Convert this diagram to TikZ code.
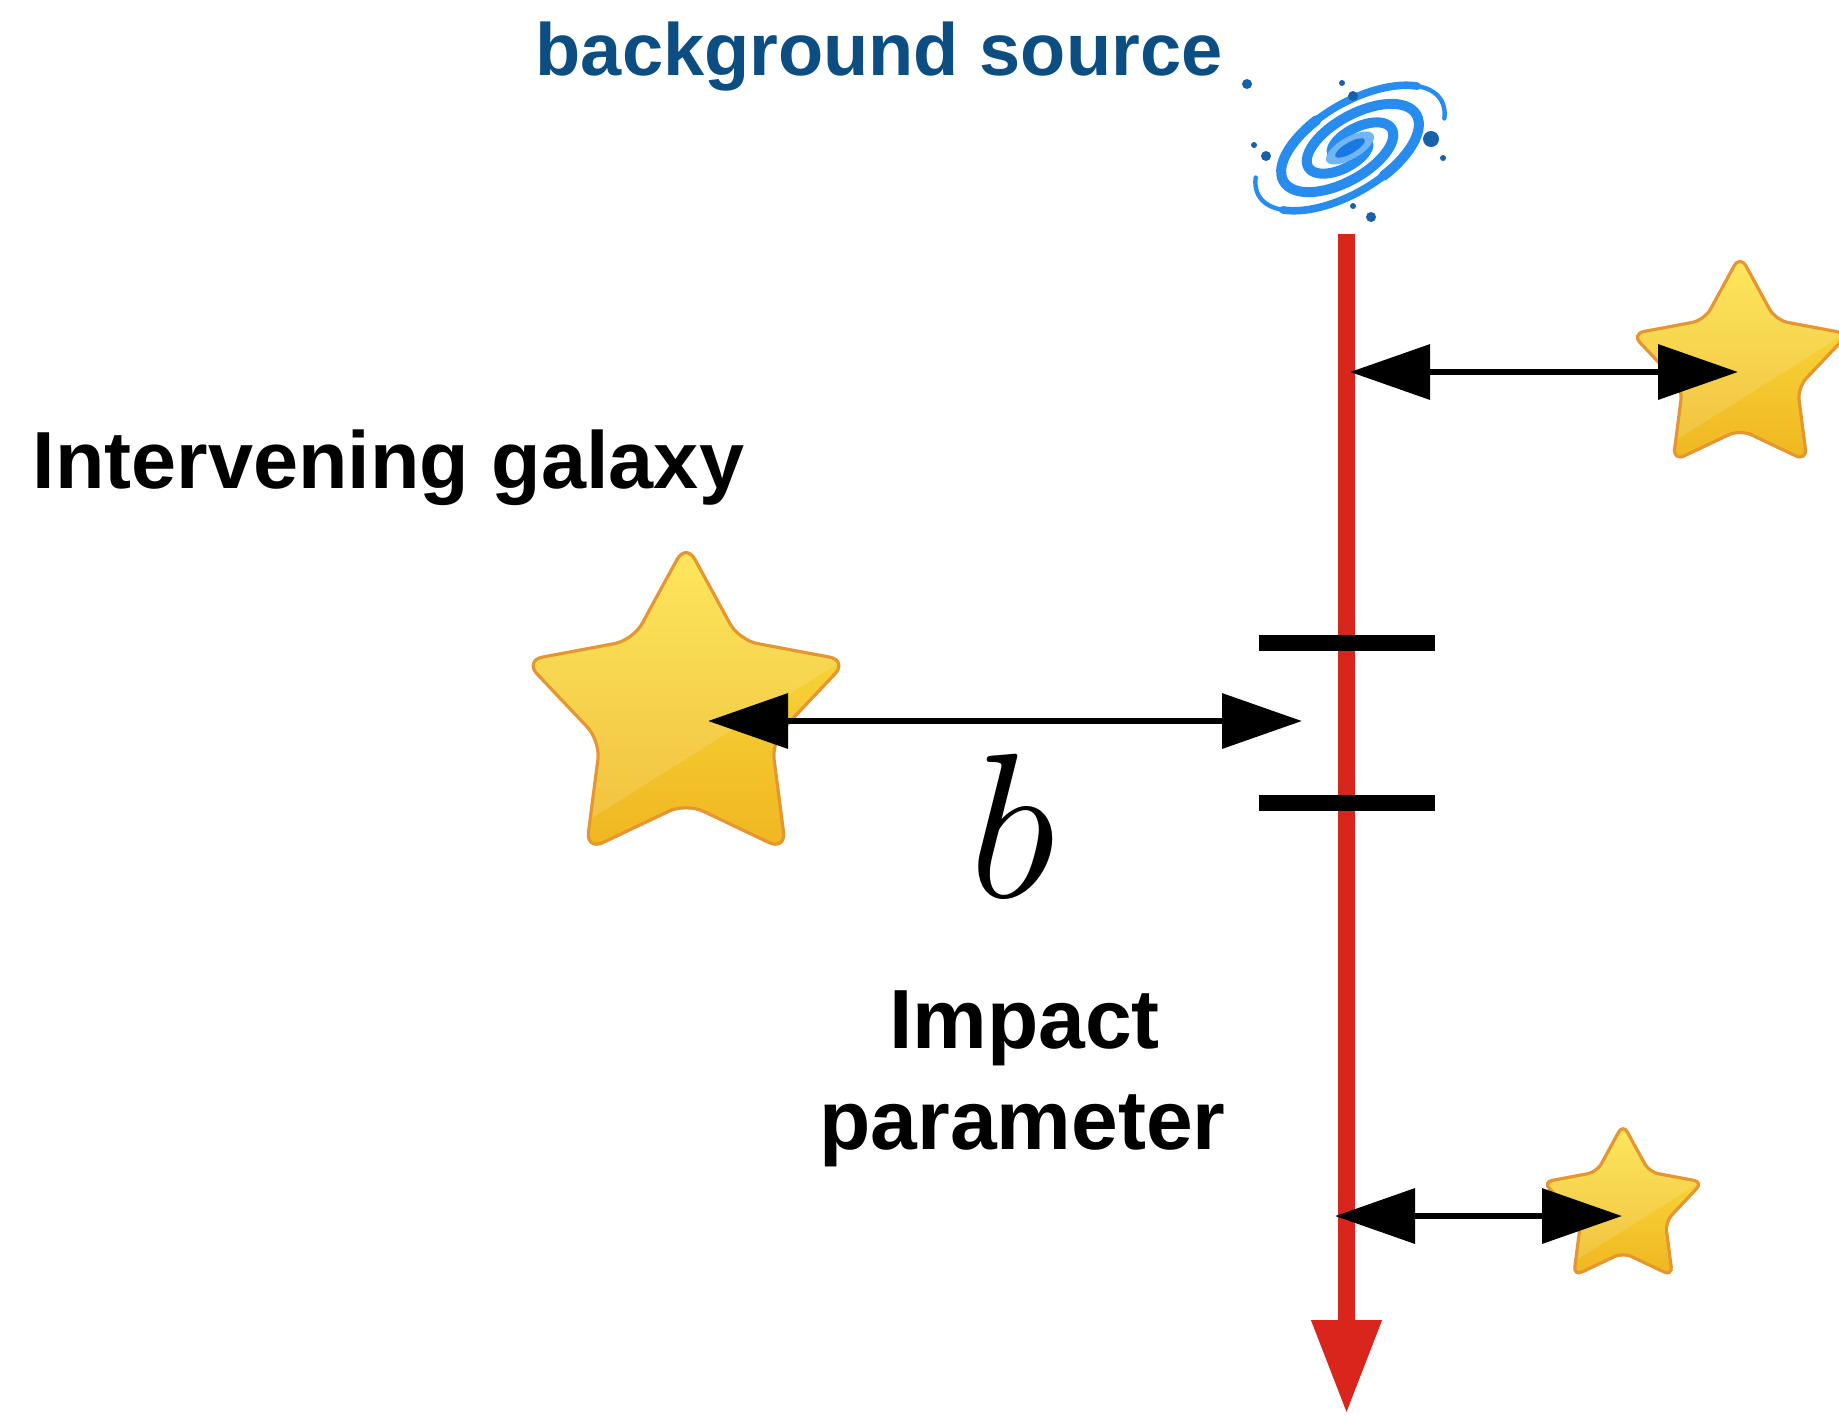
\documentclass[tikz,border=0pt]{standalone}
\usepackage{fontspec}
\usetikzlibrary{arrows.meta}
\newfontfamily\labelfont{Liberation Sans}

\definecolor{srcblue}{RGB}{12,78,130}
\definecolor{sightred}{RGB}{218,37,29}
\definecolor{starborder}{RGB}{230,150,48}
\definecolor{startop}{RGB}{253,228,70}
\definecolor{starbot}{RGB}{239,182,32}
\definecolor{armblue}{RGB}{40,140,238}
\definecolor{coreblue}{RGB}{112,182,246}
\definecolor{coredeep}{RGB}{26,120,226}
\definecolor{dotblue}{RGB}{22,96,172}

% outline of a five-pointed star, outer radius 100
\newcommand\starpts{(-90:100) -- (-54:53) -- (-18:100) -- (18:53) -- (54:100) -- (90:53) -- (126:100) -- (162:53) -- (198:100) -- (234:53) -- cycle}

% glossy gold star: name, x, y, outer radius
\newcommand\goldstar[4]{%
  \begin{scope}[shift={(#2,#3)}, scale=#4/100]
    \coordinate (#1) at (0,0);
    \shade[top color=startop, bottom color=starbot, rounded corners=#4*0.055pt] \starpts;
    \begin{scope}
      \clip[rounded corners=#4*0.055pt] \starpts;
      \fill[white, opacity=0.13] (-194,149) -- (151,-68) -- (151,-150) -- (-194,-150) -- cycle;
    \end{scope}
    \draw[starborder, line width=1.6pt, rounded corners=#4*0.055pt] \starpts;
  \end{scope}}

% one arm of the spiral: phase, first angle, last angle
\newcommand\spiralarm[3]{%
  plot[domain=#2:#3, samples=80, smooth] ({(16+0.16*\x)*cos(\x+#1)}, {(16+0.16*\x)*sin(\x+#1)})}

\tikzset{
  dimarrow/.style={line width=3.4pt, black,
    {Triangle[length=40pt,width=27pt]}-{Triangle[length=40pt,width=27pt]}},
  sightline/.style={line width=8.5pt, sightred, -{Triangle[length=47pt,width=33pt]}},
  tick/.style={line width=8pt, black},
  bigsans/.style={font=\labelfont\bfseries\fontsize{#1}{#1}\selectfont, inner sep=0pt, anchor=base},
  arm/.style={armblue, line cap=round, line width=#1}
}

\begin{document}
\begin{tikzpicture}[x=0.5pt, y=-0.5pt]
  \useasboundingbox (0,0) rectangle (1839,1415);

  % stars
  \goldstar{bigstar}{686}{713}{170}
  \goldstar{farstar}{1740}{369}{114}
  \goldstar{nearstar}{1623}{1208}{84}

  % spiral background galaxy
  \begin{scope}[shift={(1350,148)}, rotate=30, yscale=0.48]
    \foreach \k in {0,180} {
      \draw[arm=5pt]   \spiralarm{\k}{0}{440};
      \draw[arm=3.8pt] \spiralarm{\k}{435}{515};
      \draw[arm=2.2pt] \spiralarm{\k}{510}{565};
    }
  \end{scope}
  \begin{scope}[shift={(1350,148)}, rotate=30]
    \fill[coreblue] (0,0) ellipse (27 and 11);
    \fill[coredeep] (0,0) ellipse (17 and 5.5);
  \end{scope}
  \foreach \px/\py/\r in {1247/84/5, 1342/83/3, 1353/96/5, 1431/139/8, 1443/158/3,
                          1254/145/3, 1266/156/5, 1353/206/3, 1371/217/5}
    \fill[dotblue] (\px,\py) circle (\r);

  % line of sight
  \coordinate (srctop) at (1346.5,234);
  \coordinate (srcbot) at (1346.5,1414);
  \draw[sightline] (srctop) -- (srcbot);

  % absorber marks
  \coordinate (tka) at (1259,643);  \coordinate (tkb) at (1435,643);
  \coordinate (tkc) at (1259,803);  \coordinate (tkd) at (1435,803);
  \draw[tick] (tka) -- (tkb);
  \draw[tick] (tkc) -- (tkd);

  % separations
  \coordinate (bl) at (708,721);   \coordinate (br) at (1302,721);
  \coordinate (tl) at (1350,372);  \coordinate (tr) at (1738,372);
  \coordinate (ll) at (1335,1216); \coordinate (lr) at (1622,1216);
  \draw[dimarrow] (bl) -- (br);
  \draw[dimarrow] (tl) -- (tr);
  \draw[dimarrow] (ll) -- (lr);

  % labels
  \node[bigsans=37, text=srcblue] (srclabel) at (879,75) {background source};
  \node[bigsans=40.5] (gallabel) at (388.5,488) {Intervening galaxy};
  \node[bigsans=42] (implabel) at (1024.5,1048) {Impact};
  \node[bigsans=42] (parlabel) at (1022.5,1149) {parameter};
  \node[inner sep=0pt, anchor=base, font=\fontsize{24.88}{30}\selectfont] (blabel) at (1012,897) {\scalebox{4.15}{$b$}};
\end{tikzpicture}
\end{document}
